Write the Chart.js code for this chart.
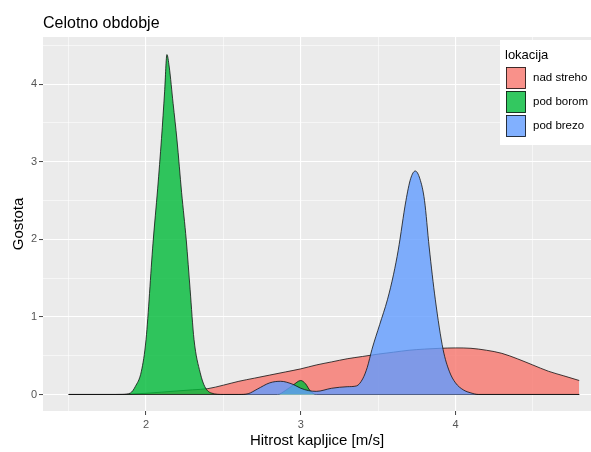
<!DOCTYPE html>
<html>
<head>
<meta charset="utf-8">
<script src="https://cdn.jsdelivr.net/npm/chart.js@4/dist/chart.umd.min.js"></script>
<style>
  html, body { margin: 0; padding: 0; background: #ffffff; }
  canvas { display: block; }
</style>
</head>
<body>
<canvas id="density_chart" width="591" height="452"></canvas>
<script>
// Locations (legend order)
var locations = ['nad streho', 'pod borom', 'pod brezo']

// Density estimates per location: x = droplet speed [m/s], y = density
var nadStrehoX = [1.5, 1.8, 1.9, 2.0, 2.1, 2.2, 2.3, 2.4, 2.5, 2.6, 2.7, 2.8, 2.9, 3.0, 3.1, 3.2, 3.3, 3.4, 3.5, 3.6, 3.7, 3.8, 3.9, 4.0, 4.1, 4.2, 4.3, 4.4, 4.5, 4.6, 4.7, 4.8]
var nadStrehoY = [0, 0, 0.005, 0.015, 0.03, 0.045, 0.06, 0.075, 0.12, 0.17, 0.21, 0.25, 0.29, 0.33, 0.38, 0.42, 0.46, 0.49, 0.52, 0.545, 0.57, 0.585, 0.595, 0.6, 0.595, 0.57, 0.53, 0.46, 0.38, 0.3, 0.24, 0.18]

var podBoromX = [1.5, 1.85, 1.9, 1.93, 1.97, 2.0, 2.045, 2.075, 2.1, 2.12, 2.135, 2.15, 2.175, 2.2, 2.23, 2.26, 2.285, 2.31, 2.35, 2.38, 2.42, 2.5, 2.85, 2.9, 2.95, 3.0, 3.03, 3.06, 3.1, 4.8]
var podBoromY = [0, 0, 0.02, 0.1, 0.3, 0.71, 1.95, 2.65, 3.3, 3.9, 4.38, 4.22, 3.75, 3.28, 2.6, 1.99, 1.35, 0.71, 0.28, 0.1, 0.02, 0, 0, 0.05, 0.12, 0.18, 0.14, 0.05, 0, 0]

var podBrezoX = [1.5, 2.6, 2.66, 2.72, 2.8, 2.87, 2.95, 3.0, 3.05, 3.1, 3.2, 3.3, 3.36, 3.4, 3.43, 3.46, 3.51, 3.56, 3.6, 3.63, 3.68, 3.71, 3.74, 3.77, 3.8, 3.83, 3.87, 3.92, 3.96, 4.0, 4.05, 4.1, 4.15, 4.8]
var podBrezoY = [0, 0, 0.01, 0.07, 0.15, 0.17, 0.13, 0.08, 0.05, 0.04, 0.08, 0.1, 0.11, 0.2, 0.35, 0.58, 0.9, 1.22, 1.55, 1.86, 2.5, 2.78, 2.88, 2.78, 2.5, 1.9, 1.22, 0.58, 0.3, 0.15, 0.06, 0.02, 0, 0]

// Axis ticks (major ones get labels, the rest are minor grid lines)
var xTicks = [1.5, 2, 2.5, 3, 3.5, 4, 4.5]
var yTicks = [0, 0.5, 1, 1.5, 2, 2.5, 3, 3.5, 4, 4.5]

var fills = ['rgba(248,118,109,0.8)', 'rgba(0,186,56,0.8)', 'rgba(97,156,255,0.8)']
var FONT = "'Liberation Sans', Arial, sans-serif"

function toPoints(xs, ys) {
    return xs.map(function (x, i) { return { x: x, y: ys[i] } })
}

function isMajor(v) {
    return Math.abs(v - Math.round(v)) < 1e-9
}

var series = [
    toPoints(nadStrehoX, nadStrehoY),
    toPoints(podBoromX, podBoromY),
    toPoints(podBrezoX, podBrezoY)
]

var datasets = locations.map(function (name, i) {
    return {
        label: name,
        data: series[i],
        backgroundColor: fills[i],
        borderColor: '#111111',
        borderWidth: 0.8,
        fill: 'origin',
        pointRadius: 0,
        cubicInterpolationMode: 'monotone',
        order: locations.length - i // first level at the bottom
    }
})

// Grey panel behind the grid
var panelBackground = {
    id: 'panelBackground',
    beforeDraw: function (chart) {
        var a = chart.chartArea
        var ctx = chart.ctx
        ctx.save()
        ctx.fillStyle = '#EBEBEB'
        ctx.fillRect(a.left, a.top, a.right - a.left, a.bottom - a.top)
        ctx.restore()
    }
}

// Plot title and the legend box drawn over the panel
var decorations = {
    id: 'decorations',
    afterDraw: function (chart) {
        var ctx = chart.ctx
        ctx.save()

        ctx.fillStyle = '#000000'
        ctx.font = '16px ' + FONT
        ctx.textAlign = 'left'
        ctx.textBaseline = 'alphabetic'
        ctx.fillText('Celotno obdobje', 43, 28)

        ctx.fillStyle = '#ffffff'
        ctx.fillRect(500, 40, 91, 105)

        ctx.fillStyle = '#000000'
        ctx.font = '13px ' + FONT
        ctx.textBaseline = 'middle'
        ctx.fillText('lokacija', 505, 55)

        ctx.font = '11.5px ' + FONT
        chart.data.datasets.forEach(function (ds, i) {
            var top = 67 + i * 24
            ctx.fillStyle = ds.backgroundColor
            ctx.fillRect(506, top, 20, 22)
            ctx.strokeStyle = '#111111'
            ctx.lineWidth = 0.8
            ctx.strokeRect(506.5, top + 0.5, 19, 21)
            ctx.fillStyle = '#000000'
            ctx.fillText(ds.label, 533, top + 11)
        })

        ctx.restore()
    }
}

var ctx = document.getElementById('density_chart')

var chart = new Chart(ctx, {
    type: 'line',
    data: { datasets: datasets },
    plugins: [panelBackground, decorations],
    options: {
        responsive: false,
        devicePixelRatio: 1,
        animation: false,
        layout: { padding: { top: 37, right: 0, left: 0, bottom: 0 } },
        plugins: {
            legend: { display: false },
            tooltip: { enabled: false }
        },
        scales: {
            x: {
                type: 'linear',
                min: 1.334,
                max: 4.876,
                afterBuildTicks: function (scale) {
                    scale.ticks = xTicks.map(function (v) { return { value: v } })
                },
                afterFit: function (scale) { scale.height = 41 },
                border: { display: false },
                grid: {
                    color: '#ffffff',
                    lineWidth: function (c) { return isMajor(c.tick.value) ? 1.1 : 0.55 },
                    tickColor: function (c) { return isMajor(c.tick.value) ? '#444444' : 'rgba(0,0,0,0)' },
                    tickWidth: 1,
                    tickLength: 4
                },
                ticks: {
                    autoSkip: false,
                    maxRotation: 0,
                    padding: 3,
                    color: '#555555',
                    font: { family: FONT, size: 11 },
                    callback: function (v) { return isMajor(v) ? String(v) : '' }
                },
                title: {
                    display: true,
                    text: 'Hitrost kapljice [m/s]',
                    color: '#000000',
                    font: { family: FONT, size: 15 },
                    padding: { top: 0, bottom: 2 }
                }
            },
            y: {
                type: 'linear',
                min: -0.213,
                max: 4.607,
                afterBuildTicks: function (scale) {
                    scale.ticks = yTicks.map(function (v) { return { value: v } })
                },
                afterFit: function (scale) { scale.width = 43 },
                border: { display: false },
                grid: {
                    color: '#ffffff',
                    lineWidth: function (c) { return isMajor(c.tick.value) ? 1.1 : 0.55 },
                    tickColor: function (c) { return isMajor(c.tick.value) ? '#444444' : 'rgba(0,0,0,0)' },
                    tickWidth: 1,
                    tickLength: 4
                },
                ticks: {
                    autoSkip: false,
                    padding: 2,
                    color: '#555555',
                    font: { family: FONT, size: 11 },
                    callback: function (v) { return isMajor(v) ? String(v) : '' }
                },
                title: {
                    display: true,
                    text: 'Gostota',
                    color: '#000000',
                    font: { family: FONT, size: 15 },
                    padding: { top: 10, bottom: 0 }
                }
            }
        }
    }
})
</script>
</body>
</html>
